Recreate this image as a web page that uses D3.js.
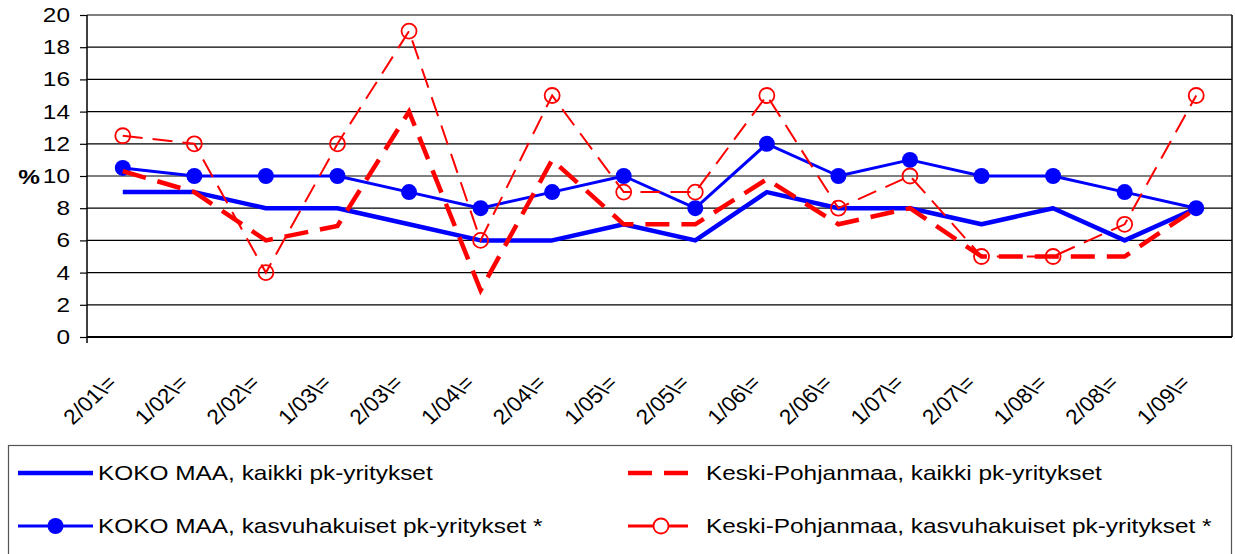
<!DOCTYPE html>
<html>
<head>
<meta charset="utf-8">
<script src="https://cdn.jsdelivr.net/npm/d3@7"></script>
<style>
  body { margin: 0; background: #fff; }
  svg { display: block; font-family: "Liberation Sans", Arial, sans-serif; }
</style>
</head>
<body>
<script>
// half-year periods
var categories = ["2/01\\=", "1/02\\=", "2/02\\=", "1/03\\=", "2/03\\=", "1/04\\=", "2/04\\=", "1/05\\=",
                  "2/05\\=", "1/06\\=", "2/06\\=", "1/07\\=", "2/07\\=", "1/08\\=", "2/08\\=", "1/09\\="]
var yTicks = [0, 2, 4, 6, 8, 10, 12, 14, 16, 18, 20]

var kokoKaikki = [9, 9, 8, 8, 7, 6, 6, 7, 6, 9, 8, 8, 7, 8, 6, 8]
var kokoKasvu = [10.5, 10, 10, 10, 9, 8, 9, 10, 8, 12, 10, 11, 10, 10, 9, 8]
var kpKaikki = [10.3, 9, 6, 6.9, 14, 2.9, 11, 7, 7, 9.8, 7, 8, 5, 5, 5, 8]
var kpKasvu = [12.5, 12, 4, 12, 19, 6, 15, 9, 9, 15, 8, 10, 5, 5, 7, 15]

var seriesNames = ["KOKO MAA, kaikki pk-yritykset", "KOKO MAA, kasvuhakuiset pk-yritykset *",
                   "Keski-Pohjanmaa, kaikki pk-yritykset", "Keski-Pohjanmaa, kasvuhakuiset pk-yritykset *"]

var w = 1235, h = 554
var plotLeft = 87, plotRight = 1232, plotTop = 15, plotBottom = 337
var stretch = 1.22   // text in the picture is drawn wider than normal

var svg = d3.select("body").append("svg")
  .attr("width", w)
  .attr("height", h)

var x = d3.scalePoint().domain(categories).range([plotLeft, plotRight]).padding(0.5)
var y = d3.scaleLinear().domain([0, 20]).range([plotBottom, plotTop])

// wide text helper
function wideText(g, tx, ty, str, size, anchor, sx, extra) {
  return g.append("text")
    .attr("transform", "translate(" + tx + "," + ty + ") scale(" + sx + ",1)" + (extra || ""))
    .attr("text-anchor", anchor)
    .style("font-size", size + "px")
    .text(str)
}

// grid lines
svg.append("g").selectAll("line")
  .data(yTicks.filter(function(d) { return d > 0 }))
  .enter().append("line")
  .attr("x1", plotLeft).attr("x2", plotRight)
  .attr("y1", function(d) { return y(d) }).attr("y2", function(d) { return y(d) })
  .attr("stroke", "#000").attr("stroke-width", 1.2)

// frame
svg.append("line").attr("x1", plotRight).attr("x2", plotRight).attr("y1", plotTop).attr("y2", plotBottom)
  .attr("stroke", "#000").attr("stroke-width", 1.5)

// y axis
var yAxis = svg.append("g")
  .attr("transform", "translate(" + plotLeft + ",0)")
  .call(d3.axisLeft(y).tickValues(yTicks).tickSize(7).tickFormat(""))
yAxis.select(".domain").remove()
yAxis.selectAll(".tick line").attr("stroke", "#000").attr("stroke-width", 1.2)
svg.append("line").attr("x1", plotLeft).attr("x2", plotLeft).attr("y1", plotTop).attr("y2", plotBottom + 6)
  .attr("stroke", "#000").attr("stroke-width", 1.5)

yTicks.forEach(function(d) {
  wideText(svg, 70, y(d) + 7, d, 20, "end", stretch)
})
wideText(svg, 29, y(10) + 8, "%", 20, "middle", stretch).style("font-weight", "bold")

// x axis line
svg.append("line").attr("x1", plotLeft).attr("x2", plotRight).attr("y1", plotBottom).attr("y2", plotBottom)
  .attr("stroke", "#000").attr("stroke-width", 2)

categories.forEach(function(c) {
  wideText(svg, x(c) - 5, 384, c, 21, "end", 1.08, " rotate(-45)")
})

// series lines
var line = d3.line()
  .x(function(d, i) { return x(categories[i]) })
  .y(function(d) { return y(d) })

svg.append("path").datum(kokoKaikki)
  .attr("d", line).attr("fill", "none")
  .attr("stroke", "#0000ff").attr("stroke-width", 4.5).attr("stroke-linejoin", "round")

svg.append("path").datum(kokoKasvu)
  .attr("d", line).attr("fill", "none")
  .attr("stroke", "#0000ff").attr("stroke-width", 3).attr("stroke-linejoin", "round")
svg.append("g").selectAll("circle").data(kokoKasvu).enter().append("circle")
  .attr("cx", function(d, i) { return x(categories[i]) })
  .attr("cy", function(d) { return y(d) })
  .attr("r", 8).attr("fill", "#0000ff")

svg.append("path").datum(kpKaikki)
  .attr("d", line).attr("fill", "none")
  .attr("stroke", "#ff0000").attr("stroke-width", 4.5).attr("stroke-dasharray", "24,12")

svg.append("path").datum(kpKasvu)
  .attr("d", line).attr("fill", "none")
  .attr("stroke", "#ff0000").attr("stroke-width", 2).attr("stroke-dasharray", "20,10")
svg.append("g").selectAll("circle").data(kpKasvu).enter().append("circle")
  .attr("cx", function(d, i) { return x(categories[i]) })
  .attr("cy", function(d) { return y(d) })
  .attr("r", 7.5).attr("fill", "none")
  .attr("stroke", "#ff0000").attr("stroke-width", 1.8)

// legend
var legend = svg.append("g")
legend.append("rect")
  .attr("x", 8.5).attr("y", 445.5).attr("width", 1223).attr("height", 120)
  .attr("fill", "none").attr("stroke", "#555").attr("stroke-width", 1.2)

var rows = [473, 526]
// KOKO MAA kaikki
legend.append("line").attr("x1", 18).attr("x2", 93).attr("y1", rows[0]).attr("y2", rows[0])
  .attr("stroke", "#0000ff").attr("stroke-width", 4.5)
wideText(legend, 98, rows[0] + 7, seriesNames[0], 20, "start", stretch)
// KOKO MAA kasvu
legend.append("line").attr("x1", 18).attr("x2", 93).attr("y1", rows[1]).attr("y2", rows[1])
  .attr("stroke", "#0000ff").attr("stroke-width", 3)
legend.append("circle").attr("cx", 55.5).attr("cy", rows[1]).attr("r", 8).attr("fill", "#0000ff")
wideText(legend, 98, rows[1] + 7, seriesNames[1], 20, "start", stretch)
// Keski-Pohjanmaa kaikki
legend.append("line").attr("x1", 628).attr("x2", 688).attr("y1", rows[0]).attr("y2", rows[0])
  .attr("stroke", "#ff0000").attr("stroke-width", 4.5).attr("stroke-dasharray", "24,12")
wideText(legend, 706, rows[0] + 7, seriesNames[2], 20, "start", stretch)
// Keski-Pohjanmaa kasvu
legend.append("line").attr("x1", 628).attr("x2", 688).attr("y1", rows[1]).attr("y2", rows[1])
  .attr("stroke", "#ff0000").attr("stroke-width", 3)
legend.append("circle").attr("cx", 661).attr("cy", rows[1]).attr("r", 7.5)
  .attr("fill", "#fff").attr("stroke", "#ff0000").attr("stroke-width", 1.8)
wideText(legend, 706, rows[1] + 7, seriesNames[3], 20, "start", stretch)
</script>
</body>
</html>
